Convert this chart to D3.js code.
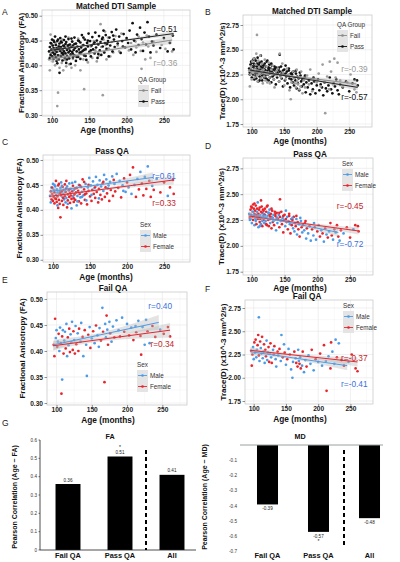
<!DOCTYPE html>
<html><head><meta charset="utf-8">
<script src="https://cdn.jsdelivr.net/npm/d3@7"></script>
<style>body{margin:0;background:#fff}svg{display:block}</style>
</head><body><svg id="c" width="400" height="562"></svg>
<script>
// ---------------- DATA ----------------
const passAge=[96,97,98,98,99,100,100,101,101,102,
102,103,103,104,104,105,105,106,106,107,
107,108,108,109,109,110,110,111,111,112,
112,113,113,114,114,115,115,116,116,117,
117,118,118,119,119,120,120,121,122,122,
123,123,124,125,125,126,127,127,128,128,
129,130,130,131,132,132,133,134,135,135,
136,137,138,138,139,140,141,142,143,144,
145,146,147,148,149,150,151,152,153,154,
155,156,157,158,159,160,161,162,163,164,
165,166,167,168,169,170,171,172,173,175,
176,177,178,180,181,183,184,186,188,190,
192,194,196,198,200,202,204,206,208,210,
212,214,216,218,220,222,224,226,228,230,
232,234,236,240,245,250,255,258,262,263,
97,99,102,104,106,108,110,112,114,116,
118,120,122,124,126,128,130,133,136,139,
142,145,148,152,157,162,168,174,182,195,
143];
const passFA=[.428,.437,.421,.445,.432,.418,.452,.426,.440,.413,
.435,.447,.423,.430,.458,.416,.441,.427,.435,.404,
.449,.433,.420,.438,.412,.385,.444,.429,.455,.418,
.437,.425,.446,.410,.432,.440,.421,.451,.428,.415,
.436,.443,.424,.405,.447,.431,.419,.439,.426,.453,
.414,.434,.442,.422,.403,.437,.448,.427,.416,.440,
.431,.456,.420,.435,.409,.444,.428,.438,.417,.450,
.432,.425,.446,.413,.436,.461,.429,.441,.420,.452,
.433,.411,.445,.438,.464,.427,.449,.418,.440,.457,
.432,.444,.424,.466,.436,.450,.415,.442,.459,.430,
.447,.421,.453,.438,.470,.426,.445,.461,.433,.449,
.418,.456,.440,.467,.428,.452,.437,.472,.444,.458,
.425,.449,.463,.436,.455,.445,.470,.432,.485,.450,
.426,.462,.441,.476,.453,.429,.466,.442,.487,.458,
.426,.448,.440,.462,.435,.455,.428,.445,.460,.432,
.415,.444,.450,.422,.409,.452,.434,.448,.424,.439,
.458,.412,.441,.429,.454,.423,.443,.417,.449,.426,
.456,.419,.450,.430,.446,.423,.456,.443,.460,.438,
.431];
const passMD=[2.31,2.27,2.35,2.26,2.30,2.37,2.22,2.28,2.33,2.40,
2.25,2.29,2.36,2.20,2.31,2.34,2.27,2.39,2.24,2.30,
2.21,2.33,2.28,2.42,2.26,2.31,2.18,2.35,2.29,2.23,
2.37,2.30,2.26,2.33,2.21,2.38,2.27,2.32,2.19,2.29,
2.35,2.25,2.31,2.28,2.22,2.36,2.30,2.24,2.33,2.27,
2.20,2.38,2.29,2.25,2.32,2.19,2.30,2.35,2.26,2.22,
2.31,2.28,2.17,2.34,2.27,2.23,2.30,2.20,2.33,2.25,
2.29,2.15,2.27,2.32,2.22,2.26,2.30,2.18,2.28,2.24,
2.33,2.21,2.27,2.13,2.25,2.30,2.19,2.26,2.23,2.28,
2.16,2.24,2.29,2.21,2.12,2.26,2.20,2.25,2.17,2.28,
2.14,2.22,2.19,2.26,2.11,2.23,2.16,2.21,2.09,2.24,
2.18,2.13,2.20,2.15,2.22,2.07,2.17,2.12,2.19,2.05,
2.16,2.10,2.18,2.06,2.14,2.20,2.09,2.15,2.12,2.04,
2.17,2.11,2.08,2.14,2.22,2.10,2.06,2.16,2.13,2.20,
2.09,2.05,2.15,2.12,2.18,2.08,2.16,2.20,2.19,2.14,
2.25,2.38,2.33,2.41,2.26,2.36,2.28,2.19,2.44,2.24,
2.34,2.29,2.21,2.39,2.32,2.28,2.36,2.24,2.31,2.27,
2.32,2.25,2.29,2.34,2.31,2.27,2.29,2.27,2.24,2.22,
2.45];
const passSex=("MFFMFFMFMF"+"FMFMFFMFMF"+"FMFMFFMFMF"+"FMFFMFMFFM"+"FFMFMFFMFM"+
"FFMFMFFMFM"+"FMFFMFMFFM"+"FMFFMFMFFM"+"FFMFMFMFFM"+"FMFMFMFFMF"+
"MFFMMFFMFM"+"FMFMFMFMFM"+"FMFMFMFMFM"+"FMFMFFMFMF"+"FMFMFFMFFF"+
"MFMFMFFMFM"+"FMFFMFFMFM"+"FMFMFMFMFM"+"F").split("");

const failAge=[96,97,98,99,100,101,102,103,104,105,
106,107,108,108,109,110,111,112,113,114,
115,116,117,118,119,120,121,122,123,124,
125,126,127,128,130,131,132,134,135,137,
138,140,142,143,145,147,148,150,152,154,
156,158,160,161,163,165,166,168,169,170,
171,172,173,175,176,178,180,182,185,188,
190,193,196,200,203,206,209,212,213,216,
219,220,222,225,227,229,232,236,240,247,
252,258,261];
const failFA=[.412,.390,.462,.425,.440,.408,.418,.433,.400,.445,
.415,.318,.345,.428,.440,.395,.420,.437,.405,.452,
.390,.426,.411,.443,.398,.432,.417,.456,.402,.438,
.421,.395,.448,.413,.434,.400,.443,.418,.454,.427,
.390,.440,.412,.352,.431,.446,.406,.424,.438,.415,
.449,.430,.408,.444,.420,.483,.437,.340,.452,.426,
.468,.441,.412,.456,.434,.418,.447,.426,.459,.440,
.428,.464,.437,.452,.430,.445,.421,.448,.436,.458,
.429,.393,.446,.412,.460,.438,.415,.448,.427,.441,
.433,.446,.428];
const failMD=[2.29,2.13,2.25,2.33,2.20,2.38,2.27,2.41,2.22,2.30,
2.35,2.46,2.65,2.24,2.18,2.39,2.32,2.26,2.44,2.21,
2.28,2.36,2.16,2.30,2.23,2.40,2.19,2.27,2.33,2.17,
2.26,2.37,2.22,2.16,2.30,2.25,2.34,2.20,2.12,2.28,
2.24,2.31,2.18,2.46,2.22,2.36,2.27,2.14,2.20,2.31,
2.25,2.09,2.00,2.17,2.28,2.21,2.16,2.12,2.30,2.18,
2.15,2.22,2.10,2.13,2.28,2.06,2.19,2.12,2.24,2.15,
2.30,2.08,2.20,2.17,2.26,2.13,2.35,2.18,1.86,2.23,
2.10,2.38,2.28,2.15,2.41,2.22,2.37,2.19,2.13,2.17,
2.25,2.10,2.07];
const failSex=("FFFMMFMFMM"+"FFMFMFMMFM"+"MFMFFMMMFF"+"MFMFMFFMMF"+"MFMMFMFMFM"+
"FMMMFMFFMM"+"FMFMFMMFMM"+"FMFMFMFMFM"+"FFMMMFMFFM"+"FFF").split("");

// regression fits: [[age,value],[age,value]] and CI half-widths (start, middle, end)
const fitA_pass=[[97,0.430],[263,0.464]], ciA_pass=[0.004,0.0015,0.005];
const fitA_fail=[[97,0.412],[261,0.451]], ciA_fail=[0.006,0.0025,0.008];
const fitB_pass=[[97,2.295],[263,2.12]],  ciB_pass=[0.025,0.008,0.03];
const fitB_fail=[[97,2.285],[261,2.155]], ciB_fail=[0.035,0.012,0.045];
const fitC_male=[[96,0.437],[235,0.465]], ciC_male=[0.007,0.003,0.010];
const fitC_fem=[[95,0.427],[263,0.460]],  ciC_fem=[0.006,0.0025,0.009];
const fitD_male=[[95,2.305],[232,2.13]],  ciD_male=[0.03,0.01,0.04];
const fitD_fem=[[95,2.289],[263,2.144]],  ciD_fem=[0.025,0.01,0.035];
const fitE_male=[[96,0.412],[245,0.455]], ciE_male=[0.010,0.004,0.014];
const fitE_fem=[[95,0.410],[261,0.440]],  ciE_fem=[0.009,0.004,0.014];
const fitF_male=[[95,2.28],[245,2.13]],   ciF_male=[0.04,0.015,0.05];
const fitF_fem=[[95,2.295],[261,2.17]],   ciF_fem=[0.035,0.015,0.05];

const ageTicks=[100,150,200,250];
const faTicks=[0.30,0.35,0.40,0.45,0.50];
const mdTicks=[1.75,2.00,2.25,2.50,2.75];

const barCats=["Fail QA","Pass QA","All"];
const faCorr=[0.36,0.51,0.41];
const mdCorr=[-0.39,-0.57,-0.48];
const corrSig=[false,true,false];
const faBarTicks=[0,0.1,0.2,0.3,0.4,0.5,0.6];
const mdBarTicks=[-0.1,-0.2,-0.3,-0.4,-0.5,-0.6,-0.7];

// ---------------- DRAWING ----------------
const FONT='"Liberation Sans", Arial, Helvetica, sans-serif';
const BLUE="#4d9be8", RED="#e8242c", BLUE_T="#3d6fe0", RED_T="#c52329";
const AGE_DOM=[86.5,285];
const svg=d3.select("#c").attr("font-family",FONT);

function txt(g,x,y,s,o={}){
  return g.append("text").attr("x",x).attr("y",y).text(s)
    .attr("font-size",o.size||8).attr("font-weight",o.bold?"bold":"normal")
    .attr("fill",o.fill||"#111").attr("text-anchor",o.anchor||"start")
    .attr("transform",o.rot?`rotate(-90,${x},${y})`:null);
}

let clipId=0;
function scatterPanel(p){
  const g=svg.append("g");
  const x=d3.scaleLinear().domain(AGE_DOM).range([p.x0,p.x1]);
  const y=d3.scaleLinear().domain(p.yDom).range([p.y1,p.y0]);
  const cid="clip"+(clipId++);
  g.append("clipPath").attr("id",cid).append("rect")
    .attr("x",p.x0).attr("y",p.y0).attr("width",p.x1-p.x0).attr("height",p.y1-p.y0);
  g.append("rect").attr("x",p.x0).attr("y",p.y0).attr("width",p.x1-p.x0).attr("height",p.y1-p.y0)
    .attr("fill","#fff");
  const yt=p.yTicks, step=yt[1]-yt[0];
  const yMinor=yt.map(t=>t+step/2).concat([yt[0]-step/2]).filter(v=>v>p.yDom[0]&&v<p.yDom[1]);
  const xMinor=ageTicks.map(t=>t+25).concat([75]).filter(v=>v>AGE_DOM[0]&&v<AGE_DOM[1]);
  g.selectAll(null).data(yMinor).join("line").attr("x1",p.x0).attr("x2",p.x1)
    .attr("y1",d=>y(d)).attr("y2",d=>y(d)).attr("stroke","#f3f3f3").attr("stroke-width",0.5);
  g.selectAll(null).data(xMinor).join("line").attr("y1",p.y0).attr("y2",p.y1)
    .attr("x1",d=>x(d)).attr("x2",d=>x(d)).attr("stroke","#f3f3f3").attr("stroke-width",0.5);
  g.selectAll(null).data(yt).join("line").attr("x1",p.x0).attr("x2",p.x1)
    .attr("y1",d=>y(d)).attr("y2",d=>y(d)).attr("stroke","#e6e6e6").attr("stroke-width",0.6);
  g.selectAll(null).data(ageTicks).join("line").attr("y1",p.y0).attr("y2",p.y1)
    .attr("x1",d=>x(d)).attr("x2",d=>x(d)).attr("stroke","#e6e6e6").attr("stroke-width",0.6);
  const inner=g.append("g").attr("clip-path",`url(#${cid})`);
  p.series.forEach(s=>{
    inner.selectAll(null).data(d3.range(Math.min(s.age.length,s.val.length))).join("circle")
      .attr("cx",i=>x(s.age[i])).attr("cy",i=>y(s.val[i])).attr("r",1.35)
      .attr("fill",i=>s.color(i));
  });
  const area=d3.area().x(d=>x(d[0])).y0(d=>y(d[1]-d[2])).y1(d=>y(d[1]+d[2])).curve(d3.curveNatural);
  p.fits.forEach(f=>{
    const [a0,v0]=f.fit[0],[a1,v1]=f.fit[1];
    const am=a0+(a1-a0)*0.45, vm=v0+(v1-v0)*0.45;
    inner.append("path").datum([[a0,v0,f.ci[0]],[am,vm,f.ci[1]],[a1,v1,f.ci[2]]])
      .attr("d",area).attr("fill","#b5b5b5").attr("opacity",0.38);
  });
  p.fits.forEach(f=>{
    inner.append("path").datum(f.fit).attr("d",d3.line().x(d=>x(d[0])).y(d=>y(d[1])))
      .attr("stroke",f.color).attr("stroke-width",1).attr("fill","none");
  });
  g.append("rect").attr("x",p.x0).attr("y",p.y0).attr("width",p.x1-p.x0).attr("height",p.y1-p.y0)
    .attr("fill","none").attr("stroke","#c4c4c4").attr("stroke-width",0.7);
  // axes
  const ay=g.append("g").attr("transform",`translate(${p.x0},0)`)
    .call(d3.axisLeft(y).tickValues(yt).tickSize(2.5).tickPadding(1.5).tickFormat(d3.format(".2f")));
  const ax=g.append("g").attr("transform",`translate(0,${p.y1})`)
    .call(d3.axisBottom(x).tickValues(ageTicks).tickSize(2).tickPadding(0.8));
  [ay,ax].forEach(a=>{
    a.select(".domain").remove();
    a.selectAll("line").attr("stroke","#444").attr("stroke-width",0.6);
    a.selectAll("text").attr("font-size",6.6).attr("font-weight","bold").attr("fill","#222")
      .attr("font-family",FONT);
  });
  // r labels
  p.rlab.forEach(r=>txt(g,x(r.age),y(r.val),r.text,{size:8.3,fill:r.color,anchor:"middle"}));
  // titles
  txt(g,p.titleX,p.y0-1.5,p.title,{size:8.2,bold:true,anchor:"middle"});
  txt(g,p.ylabX,(p.y0+p.y1)/2,p.ylab,{size:8,bold:true,anchor:"middle",rot:true});
  txt(g,p.xlabX,p.xlabY,"Age (months)",{size:8.3,bold:true,anchor:"middle"});
  txt(g,p.letter[1],p.letter[2],p.letter[0],{size:8.5,fill:"#222"});
  // legend
  const L=p.legend;
  txt(g,L.x,L.y,L.title,{size:6.3,fill:"#333"});
  const kh=11;
  g.append("rect").attr("x",L.x).attr("y",L.y+3).attr("width",11).attr("height",kh*L.items.length)
    .attr("fill","#e4e4e4");
  L.items.forEach((it,i)=>{
    const cy=L.y+3+kh/2+i*kh;
    g.append("line").attr("x1",L.x+1).attr("x2",L.x+10).attr("y1",cy).attr("y2",cy)
      .attr("stroke",it.color).attr("stroke-width",0.9);
    g.append("circle").attr("cx",L.x+5.5).attr("cy",cy).attr("r",1.3).attr("fill",it.color);
    txt(g,L.x+13,cy+2.3,it.label,{size:6.3,fill:"#333"});
  });
}

const sexColor=arr=>i=>arr[i]==="M"?BLUE:RED;
const FA="Fractional Anisotropy (FA)", MD="Trace(D) (x10^-3 mm^2/s)";

scatterPanel({x0:42,x1:190,y0:10,y1:116,yDom:[0.298,0.5115],yTicks:faTicks,
  series:[{age:failAge,val:failFA,color:()=>"#9d9d9d"},{age:passAge,val:passFA,color:()=>"#111"}],
  fits:[{fit:fitA_fail,ci:ciA_fail,color:"#8a8a8a"},{fit:fitA_pass,ci:ciA_pass,color:"#222"}],
  rlab:[{age:252,val:0.468,text:"r=0.51",color:"#111"},{age:252,val:0.398,text:"r=0.36",color:"#9a9a9a"}],
  title:"Matched DTI Sample",titleX:116,ylab:FA,ylabX:24,xlabX:107,xlabY:133,letter:["A",2,15],
  legend:{x:138,y:82,title:"QA Group",items:[{label:"Fail",color:"#8a8a8a"},{label:"Pass",color:"#111"}]}});

scatterPanel({x0:243,x1:372,y0:15,y1:127,yDom:[1.72,2.851],yTicks:mdTicks,
  series:[{age:passAge,val:passMD,color:()=>"#111"},{age:failAge,val:failMD,color:()=>"#9d9d9d"}],
  fits:[{fit:fitB_fail,ci:ciB_fail,color:"#8a8a8a"},{fit:fitB_pass,ci:ciB_pass,color:"#222"}],
  rlab:[{age:258,val:2.275,text:"r=-0.39",color:"#9a9a9a"},{age:258,val:1.995,text:"r=-0.57",color:"#111"}],
  title:"Matched DTI Sample",titleX:312,ylab:MD,ylabX:225,xlabX:300,xlabY:144,letter:["B",205,15],
  legend:{x:337,y:27,title:"QA Group",items:[{label:"Fail",color:"#8a8a8a"},{label:"Pass",color:"#111"}]}});

scatterPanel({x0:43,x1:190,y0:155,y1:262,yDom:[0.2955,0.51],yTicks:faTicks,
  series:[{age:passAge,val:passFA,color:sexColor(passSex)}],
  fits:[{fit:fitC_fem,ci:ciC_fem,color:RED},{fit:fitC_male,ci:ciC_male,color:BLUE}],
  rlab:[{age:250,val:0.462,text:"r=0.61",color:BLUE_T},{age:250,val:0.407,text:"r=0.33",color:RED_T}],
  title:"Pass QA",titleX:112,ylab:FA,ylabX:22,xlabX:106,xlabY:280,letter:["C",2,145],
  legend:{x:140,y:227,title:"Sex",items:[{label:"Male",color:BLUE},{label:"Female",color:RED}]}});

scatterPanel({x0:243,x1:373,y0:158,y1:275,yDom:[1.718,2.85],yTicks:mdTicks,
  series:[{age:passAge,val:passMD,color:sexColor(passSex)}],
  fits:[{fit:fitD_fem,ci:ciD_fem,color:RED},{fit:fitD_male,ci:ciD_male,color:BLUE}],
  rlab:[{age:250,val:2.36,text:"r=-0.45",color:RED_T},{age:250,val:1.99,text:"r=-0.72",color:BLUE_T}],
  title:"Pass QA",titleX:310,ylab:MD,ylabX:224,xlabX:300,xlabY:291,letter:["D",205,149],
  legend:{x:342,y:166,title:"Sex",items:[{label:"Male",color:BLUE},{label:"Female",color:RED}]}});

scatterPanel({x0:47,x1:187,y0:292,y1:405,yDom:[0.2962,0.5134],yTicks:faTicks,
  series:[{age:failAge,val:failFA,color:sexColor(failSex)}],
  fits:[{fit:fitE_fem,ci:ciE_fem,color:RED},{fit:fitE_male,ci:ciE_male,color:BLUE}],
  rlab:[{age:247,val:0.48,text:"r=0.40",color:BLUE_T},{age:250,val:0.407,text:"r=0.34",color:RED_T}],
  title:"Fail QA",titleX:113,ylab:FA,ylabX:25,xlabX:108,xlabY:423,letter:["E",2,283],
  legend:{x:137,y:367,title:"Sex",items:[{label:"Male",color:BLUE},{label:"Female",color:RED}]}});

scatterPanel({x0:245,x1:373,y0:300,y1:404,yDom:[1.718,2.836],yTicks:mdTicks,
  series:[{age:failAge,val:failMD,color:sexColor(failSex)}],
  fits:[{fit:fitF_fem,ci:ciF_fem,color:RED},{fit:fitF_male,ci:ciF_male,color:BLUE}],
  rlab:[{age:256,val:2.18,text:"r=-0.37",color:RED_T},{age:256,val:1.9,text:"r=-0.41",color:BLUE_T}],
  title:"Fail QA",titleX:307,ylab:MD,ylabX:226,xlabX:300,xlabY:422,letter:["F",205,292],
  legend:{x:343,y:308,title:"Sex",items:[{label:"Male",color:BLUE},{label:"Female",color:RED}]}});

// ---------------- BAR CHARTS ----------------
function barPanel(p){
  const g=svg.append("g");
  const x=d3.scaleBand().domain(barCats).range(p.xr).paddingInner(p.pi).paddingOuter(p.po);
  const y=d3.scaleLinear().domain(p.yDom).range(p.yr);
  const zero=y(0);
  g.selectAll(null).data(p.vals).join("rect")
    .attr("x",(d,i)=>x(barCats[i])).attr("width",x.bandwidth())
    .attr("y",d=>Math.min(y(d),zero)).attr("height",d=>Math.abs(y(d)-zero)).attr("fill","#000");
  g.selectAll(null).data(p.ticks).join("text")
    .attr("x",p.axisX-3).attr("y",d=>y(d)+1.6).attr("text-anchor","end")
    .attr("font-size",4.6).attr("fill","#333").text(d=>d===0?"0":d.toFixed(1));
  if(p.axisLine){
    g.append("line").attr("x1",p.axisX).attr("x2",p.axisX).attr("y1",y(p.yDom[1])).attr("y2",y(p.yDom[0]))
      .attr("stroke","#222").attr("stroke-width",0.8);
    g.selectAll(null).data(p.ticks).join("line").attr("x1",p.axisX-1.5).attr("x2",p.axisX)
      .attr("y1",d=>y(d)).attr("y2",d=>y(d)).attr("stroke","#222").attr("stroke-width",0.6);
  }
  g.append("line").attr("x1",p.axisX).attr("x2",p.baseEnd).attr("y1",zero).attr("y2",zero)
    .attr("stroke",p.baseColor).attr("stroke-width",p.baseW);
  const sx=(x(barCats[1])+x.bandwidth()+x(barCats[2]))/2;
  g.append("line").attr("x1",sx).attr("x2",sx).attr("y1",p.sepY[0]).attr("y2",p.sepY[1])
    .attr("stroke","#000").attr("stroke-width",2).attr("stroke-dasharray","4,3");
  p.vals.forEach((v,i)=>{
    const cx=x(barCats[i])+x.bandwidth()/2;
    const ly=v>=0?y(v)-2.5:y(v)+6;
    txt(g,cx,ly,v.toFixed(2),{size:4.6,anchor:"middle",fill:"#222"});
    if(corrSig[i]) txt(g,cx,v>=0?ly-5:ly+5.5,"*",{size:5,anchor:"middle"});
    txt(g,cx,p.catY,barCats[i],{size:7.4,bold:true,anchor:"middle"});
  });
  txt(g,p.titleX,p.titleY,p.title,{size:7.2,bold:true,anchor:"middle"});
  txt(g,p.ylabX,p.ylabY,p.ylab,{size:7,bold:true,anchor:"middle",rot:true});
}
barPanel({xr:[42,198],pi:0.52,po:0.26,yDom:[0,0.6],yr:[550,440],vals:faCorr,ticks:faBarTicks,
  axisX:40,axisLine:true,baseEnd:196,baseColor:"#222",baseW:0.8,sepY:[450,550],catY:558,
  title:"FA",titleX:110,titleY:439,ylab:"Pearson Correlation (Age ~ FA)",ylabX:17,ylabY:497});
barPanel({xr:[242,395],pi:0.588,po:0.294,yDom:[-0.7,0],yr:[551.7,445],vals:mdCorr,ticks:mdBarTicks,
  axisX:240,axisLine:false,baseEnd:383,baseColor:"#9aa0a0",baseW:1,sepY:[450,545],catY:558,
  title:"MD",titleX:300,titleY:439,ylab:"Pearson Correlation (Age ~ MD)",ylabX:207,ylabY:497});
txt(svg,2,426,"G",{size:8.5,fill:"#222"});
</script></body></html>
